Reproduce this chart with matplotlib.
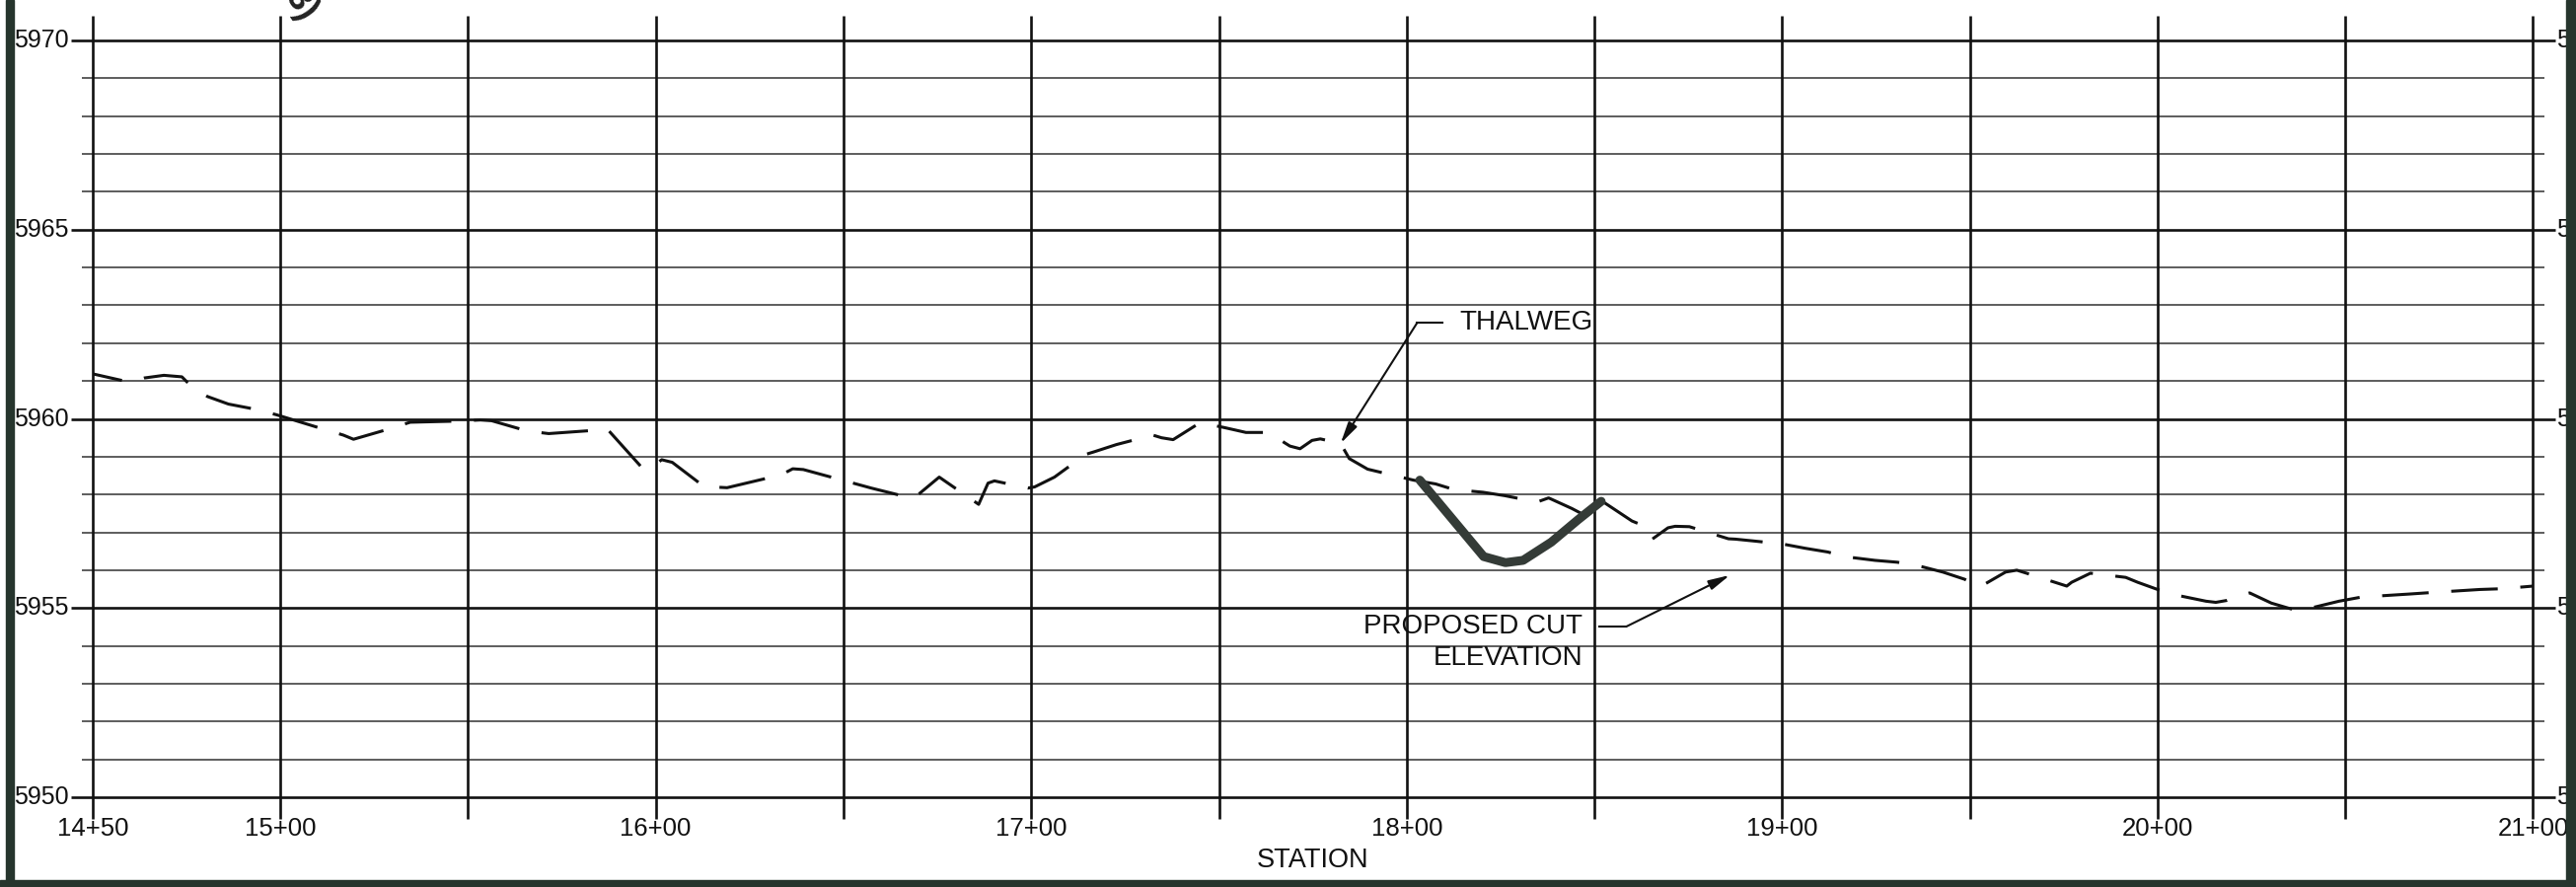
"""Stream profile sheet: thalweg and proposed cut elevation vs. station."""

import matplotlib
matplotlib.use("Agg")
import matplotlib.pyplot as plt
from matplotlib.patches import Rectangle

# ── Data (station ft, elevation ft) ──────────────────────────────────────
thalweg_sta = [
    1450.0, 1458.0, 1460.5, 1463.8, 1469.0, 1473.8, 1475.8, 1480.6, 1486.2,
    1493.0, 1498.9, 1511.1, 1516.8, 1519.5, 1528.9, 1534.6, 1547.3, 1553.3,
    1556.3, 1565.7, 1571.5, 1584.2, 1587.0, 1596.6, 1598.5, 1601.6, 1604.4,
    1613.0, 1615.0, 1619.0, 1633.4, 1636.5, 1639.3, 1651.5, 1657.4, 1668.3,
    1669.2, 1675.5, 1684.4, 1686.0, 1688.5, 1690.2, 1699.1, 1700.9, 1706.2,
    1714.5, 1716.8, 1722.7, 1732.4, 1734.7, 1737.8, 1745.0, 1751.4, 1757.2,
    1763.1, 1768.9, 1771.6, 1774.8, 1777.0, 1782.4, 1784.7, 1789.6, 1801.8,
    1807.7, 1812.6, 1820.3, 1826.1, 1834.7, 1837.8, 1844.0, 1846.5, 1848.5,
    1851.8, 1855.0, 1860.0, 1862.7, 1865.4, 1869.6, 1871.5, 1875.3, 1885.7,
    1887.6, 1893.6, 1900.2, 1906.1, 1912.2, 1916.5, 1924.7, 1930.7, 1937.3,
    1942.8, 1948.6, 1952.7, 1959.5, 1962.5, 1965.4, 1975.8, 1977.1, 1982.1,
    1991.5, 1994.7, 2000.0, 2003.6, 2012.9, 2015.5, 2018.4, 2024.5, 2030.3,
    2036.1, 2038.3, 2048.3, 2054.3, 2067.1, 2073.0, 2085.8, 2091.7, 2100.0,
]
thalweg_elev = [
    5961.19, 5961.01, 5960.98, 5961.08, 5961.15, 5961.11, 5960.91, 5960.59, 5960.39,
    5960.26, 5960.11, 5959.74, 5959.57, 5959.46, 5959.73, 5959.91, 5959.94, 5959.97,
    5959.95, 5959.68, 5959.61, 5959.70, 5959.74, 5958.68, 5958.69, 5958.92, 5958.85,
    5958.20, 5958.20, 5958.18, 5958.52, 5958.68, 5958.66, 5958.33, 5958.17, 5957.90,
    5957.94, 5958.46, 5957.85, 5957.74, 5958.30, 5958.36, 5958.17, 5958.20, 5958.46,
    5959.06, 5959.13, 5959.32, 5959.57, 5959.50, 5959.45, 5959.90, 5959.77, 5959.64,
    5959.64, 5959.28, 5959.21, 5959.43, 5959.47, 5959.35, 5958.95, 5958.67, 5958.38,
    5958.28, 5958.13, 5958.06, 5957.97, 5957.80, 5957.91, 5957.63, 5957.50, 5957.45,
    5957.84, 5957.63, 5957.30, 5957.19, 5956.82, 5957.12, 5957.16, 5957.15, 5956.83,
    5956.82, 5956.76, 5956.69, 5956.58, 5956.48, 5956.36, 5956.26, 5956.21, 5956.09,
    5955.95, 5955.76, 5955.56, 5955.95, 5956.00, 5955.91, 5955.58, 5955.68, 5955.92,
    5955.81, 5955.68, 5955.49, 5955.37, 5955.18, 5955.15, 5955.20, 5955.40, 5955.13,
    5954.96, 5954.94, 5955.18, 5955.29, 5955.37, 5955.41, 5955.49, 5955.51, 5955.58,
]

cut_sta = [1803.5, 1820.5, 1826.3, 1831.0, 1838.5, 1845.6, 1851.8]
cut_elev = [5958.38, 5956.36, 5956.20, 5956.26, 5956.74, 5957.33, 5957.82]

elev_ticks = [5950, 5955, 5960, 5965, 5970]
station_ticks = [1450, 1500, 1600, 1700, 1800, 1900, 2000, 2100]
station_labels = ["14+50", "15+00", "16+00", "17+00", "18+00", "19+00", "20+00", "21+00"]

# ── Figure layout (pixels of the 2611x899 sheet) ──────────────────────────
W, H, DPI = 2611, 899, 100
X0, X1 = 93.8, 2567.5      # 14+50 and 21+00 grid lines
Y_TOP, Y_BOT = 41, 808     # 5970 and 5950 grid lines
PX_FT_X = (X1 - X0) / 650.0
PX_FT_Y = (Y_BOT - Y_TOP) / 20.0

plt.rcParams["font.family"] = ["Liberation Sans", "DejaVu Sans"]
plt.rcParams["lines.scale_dashes"] = False

fig = plt.figure(figsize=(W / DPI, H / DPI), dpi=DPI)
fig.patch.set_facecolor("white")
ax = fig.add_axes([X0 / W, 1 - Y_BOT / H, (X1 - X0) / W, (Y_BOT - Y_TOP) / H])
ax.set_xlim(1450, 2100)
ax.set_ylim(5950, 5970)
ax.axis("off")

# ── Grid: 1 ft horizontal lines, heavier every 5 ft; stations every 50 ft ──
for e in range(5950, 5971):
    if e % 5 == 0:
        ax.hlines(e, 1450 - 22 / PX_FT_X, 2100 + 22 / PX_FT_X, color="#111111",
                  lw=1.9, clip_on=False, zorder=1)
    else:
        ax.hlines(e, 1450 - 11 / PX_FT_X, 2100 + 12 / PX_FT_X, color="#505050",
                  lw=1.3, clip_on=False, zorder=1)

for s in range(1450, 2101, 50):
    ax.vlines(s, 5950 - 22 / PX_FT_Y, 5970 + 25 / PX_FT_Y, color="#111111",
              lw=1.9, clip_on=False, zorder=1)

# axis labels (right-hand ones run off the sheet edge, as on the drawing)
for e in elev_ticks:
    ax.text(1450 - 24 / PX_FT_X, e, str(e), ha="right", va="center",
            fontsize=18, color="#111111")
    ax.text(2100 + 24 / PX_FT_X, e, str(e), ha="left", va="center",
            fontsize=18, color="#111111", clip_on=False)

for s, lab in zip(station_ticks, station_labels):
    ax.text(s, 5950 - 32 / PX_FT_Y, lab, ha="center", va="center",
            fontsize=18.5, color="#111111")

ax.text(1775, 5950 - 64 / PX_FT_Y, "STATION", ha="center", va="center",
        fontsize=19.5, color="#111111")

# ── Profiles ──────────────────────────────────────────────────────────────
ax.plot(thalweg_sta, thalweg_elev, color="#111111", lw=2.2,
        linestyle=(12, (34, 16.5)), zorder=3)
ax.plot(cut_sta, cut_elev, color="#343b37", lw=6.5,
        solid_capstyle="round", solid_joinstyle="round", zorder=4)

# ── Callouts ──────────────────────────────────────────────────────────────
arrow = dict(arrowstyle="-|>,head_length=1.3,head_width=0.3", lw=1.5,
             color="#111111", shrinkA=0, shrinkB=0)

ax.plot([1809.4, 1802.8], [5962.54, 5962.54], color="#111111", lw=1.5)
ax.annotate("", xy=(1782.4, 5959.35), xytext=(1802.8, 5962.54), arrowprops=arrow)
ax.text(1814.0, 5962.54, "THALWEG", ha="left", va="center", fontsize=20,
        color="#111111")

ax.plot([1851.4, 1858.5], [5954.51, 5954.51], color="#111111", lw=1.5)
ax.annotate("", xy=(1886.1, 5955.87), xytext=(1858.5, 5954.51), arrowprops=arrow)
ax.text(1846.9, 5954.51, "PROPOSED CUT", ha="right", va="center", fontsize=20,
        color="#111111")
ax.text(1846.9, 5953.68, "ELEVATION", ha="right", va="center", fontsize=20,
        color="#111111")

# sheet marker cut off at the top edge
fig.text(305 / W, 1 - 4 / H, "3)", rotation=-55, fontsize=26, fontweight="bold",
         ha="center", va="center", color="#222222")

# ── Sheet border ──────────────────────────────────────────────────────────
border = "#26352d"
for x, y, w, h in [(6, 0, 8, H), (0, 892, W, 7), (2601, 0, 10, H)]:
    fig.add_artist(Rectangle((x / W, 1 - (y + h) / H), w / W, h / H,
                             transform=fig.transFigure, color=border, zorder=10))

fig.savefig("out.png", dpi=DPI)
plt.close(fig)
